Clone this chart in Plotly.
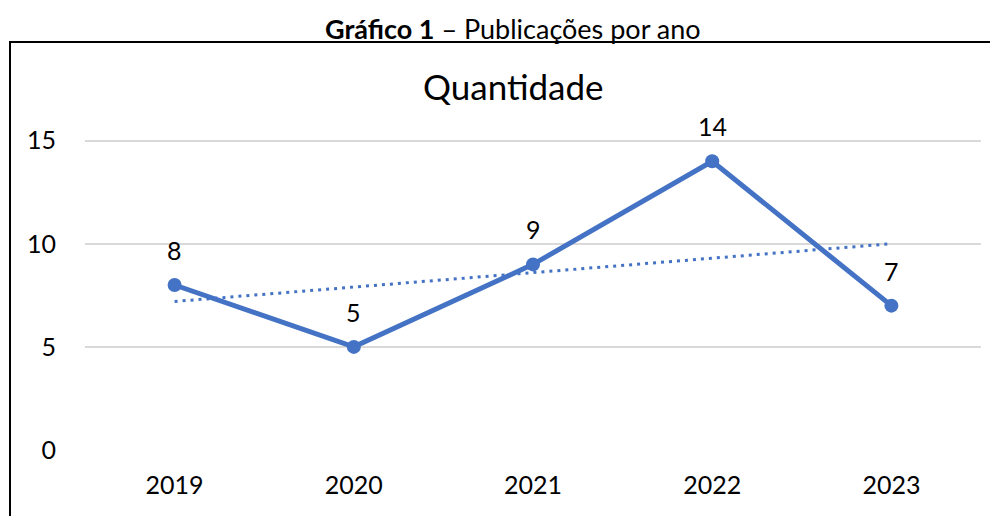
import numpy as np
import plotly.graph_objects as go

anos = ["2019", "2020", "2021", "2022", "2023"]
quantidade = [8, 5, 9, 14, 7]
y_ticks = [0, 5, 10, 15]

COR = "#4472C4"
FONT = "Lato"

# linear trendline computed from the data
xi = np.arange(1, len(anos) + 1)
coef = np.polyfit(xi, quantidade, 1)
trend = np.polyval(coef, xi)

OFF = 8  # page body margin
W, H = 998 - OFF, 516 - OFF
ML, MR, MT, MB = 85 - OFF, 17, 120 - OFF, 66
PW, PH = W - ML - MR, H - MT - MB


def px_x(p):
    return (p - OFF - ML) / PW


def px_y(p):
    return (H - MB - (p - OFF)) / PH


fig = go.Figure()
fig.add_trace(go.Scatter(
    x=anos, y=trend, mode="lines",
    line=dict(color=COR, width=3, dash="3px,5px"),
    hoverinfo="skip", showlegend=False))
fig.add_trace(go.Scatter(
    x=anos, y=quantidade, mode="lines+markers",
    line=dict(color=COR, width=5), marker=dict(color=COR, size=14),
    hoverinfo="skip", showlegend=False))

# data labels (category index positions on the category axis)
for i, q in enumerate(quantidade):
    fig.add_annotation(x=i, y=q, text=str(q), showarrow=False, yshift=35,
                       yanchor="middle",
                       font=dict(family=FONT, size=25, color="#000000"))

fig.add_annotation(xref="paper", yref="paper", x=px_x(513), y=px_y(86),
                   text="Quantidade", showarrow=False, yanchor="middle",
                   font=dict(family=FONT, size=35, color="#000000"))
fig.add_annotation(xref="paper", yref="paper", x=px_x(513), y=px_y(28),
                   text="<b>Gráfico 1</b> – Publicações por ano", showarrow=False,
                   yanchor="middle",
                   font=dict(family=FONT, size=27, color="#000000"))

fig.add_shape(type="rect", xref="paper", yref="paper",
              x0=px_x(10), x1=px_x(1030), y0=px_y(560), y1=px_y(42),
              line=dict(color="#000000", width=2), layer="above")

fig.update_layout(
    width=W, height=H,
    margin=dict(l=ML, r=MR, t=MT, b=MB),
    paper_bgcolor="white", plot_bgcolor="white",
    font=dict(family=FONT, color="#000000"),
    xaxis=dict(type="category", range=[-0.5, len(anos) - 0.5], autorange=False,
               showgrid=False, showline=False, zeroline=False,
               ticks="", tickfont=dict(size=25), ticklabelstandoff=18),
    yaxis=dict(range=[0, 16], tickvals=y_ticks, showgrid=True, gridcolor="#D9D9D9",
               gridwidth=2, zeroline=False, showline=False, ticks="",
               tickfont=dict(size=25), ticklabelstandoff=28),
)

fig.write_html("out.html")
